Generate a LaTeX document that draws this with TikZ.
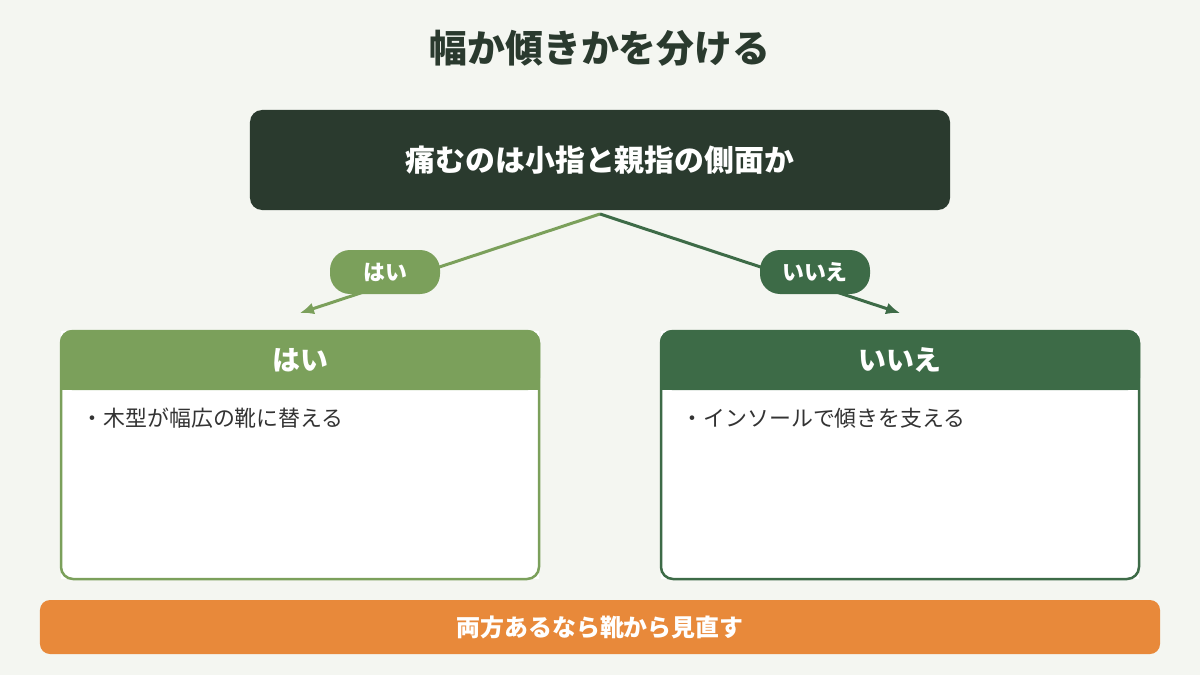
\documentclass[tikz,border=0pt]{standalone}
\usepackage{fontspec}
\setmainfont{Noto Sans CJK JP}
\newfontfamily\jpb{Noto Sans CJK JP Bold}
\usetikzlibrary{arrows.meta}
\definecolor{bg}{HTML}{F4F6F1}
\definecolor{dk}{HTML}{2A3A2E}
\definecolor{lg}{HTML}{7BA05B}
\definecolor{dg}{HTML}{3D6B47}
\definecolor{org}{HTML}{E8893A}
\definecolor{txt}{HTML}{333333}
\begin{document}
\begin{tikzpicture}[x=1bp,y=-1bp,
  pill/.style={rounded corners=20bp,minimum width=110bp,minimum height=44bp,text=white,font=\fontsize{22}{26}\selectfont\bfseries,inner sep=0},
  arr/.style={line width=3bp,-{Latex[length=14bp,width=12bp]}},
  hdr/.style={text=white,font=\fontsize{28}{32}\selectfont\bfseries},
  body/.style={anchor=west,text=txt,font=\fontsize{22}{26}\selectfont}]
\useasboundingbox (0,0) rectangle (1200,675);
\fill[bg] (0,0) rectangle (1200,675);
\node[text=dk,font=\fontsize{38}{44}\selectfont\bfseries] (title) at (600,48) {幅か傾きかを分ける};
\node[fill=dk,rounded corners=12bp,minimum width=700bp,minimum height=100bp,text=white,font=\fontsize{30}{36}\selectfont\bfseries] (q) at (600,160) {痛むのは小指と親指の側面か};
\coordinate (s) at (600,214);
\coordinate (l) at (300,313);
\coordinate (r) at (900,313);
\draw[arr,lg] (s) -- (l);
\draw[arr,dg] (s) -- (r);
\node[pill,fill=lg] (py) at (385,272) {はい};
\node[pill,fill=dg] (pn) at (815,272) {いいえ};
% left box
\fill[white] (61,331) rectangle (539,579);
\fill[lg,rounded corners=12bp] (60,330) rectangle (540,390);
\fill[lg] (60,370) rectangle (540,390);
\draw[lg,line width=2.5bp,rounded corners=12bp] (61,331) rectangle (539,579);
\node[hdr] (hy) at (300,360) {はい};
\node[body] (by) at (78,418) {・木型が幅広の靴に替える};
% right box
\fill[white] (661,331) rectangle (1139,579);
\fill[dg,rounded corners=12bp] (660,330) rectangle (1140,390);
\fill[dg] (660,370) rectangle (1140,390);
\draw[dg,line width=2.5bp,rounded corners=12bp] (661,331) rectangle (1139,579);
\node[hdr] (hn) at (900,360) {いいえ};
\node[body] (bn) at (678,418) {・インソールで傾きを支える};
% bottom
\node[fill=org,rounded corners=10bp,minimum width=1120bp,minimum height=54bp,text=white,font=\fontsize{24}{28}\selectfont\bfseries] (bot) at (600,627) {両方あるなら靴から見直す};
\end{tikzpicture}
\end{document}
